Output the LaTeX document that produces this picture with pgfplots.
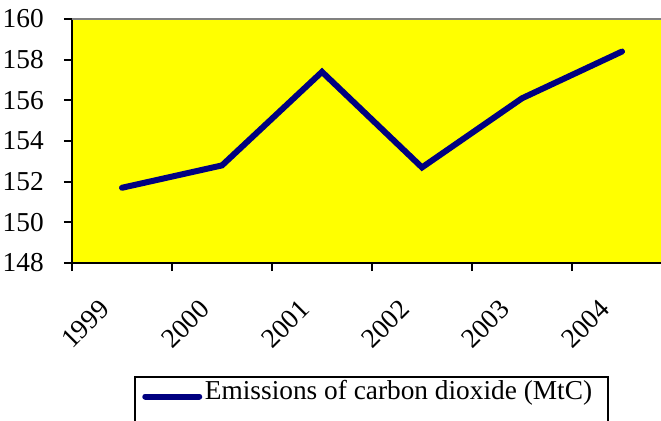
\documentclass[border=0pt]{standalone}
\usepackage{pgfplots}
\pgfplotsset{compat=1.18}
\usepackage{fontspec}
\setmainfont{Liberation Serif}
\definecolor{navyline}{RGB}{0,0,128}
\definecolor{plotyellow}{RGB}{255,255,0}
\definecolor{topgray}{RGB}{128,128,128}
\newcommand{\chartfont}{\fontsize{20.5}{24.6}\selectfont}
\begin{document}
\begin{tikzpicture}
\begin{axis}[
  at={(0,0)}, anchor=south west,
  scale only axis,
  width=450pt, height=183pt,
  xmin=-0.5, xmax=5.5,
  ymin=148, ymax=160,
  clip=false,
  axis x line*=bottom, axis y line*=left,
  axis line style={line width=1.3pt, -},
  axis background/.style={fill=plotyellow},
  xtick={-0.5,0.5,...,4.5},
  xticklabels={1999,2000,2001,2002,2003,2004},
  ytick={148,150,...,160},
  tick align=outside,
  major tick length=6pt,
  tick style={line width=1.3pt, black},
  ticklabel style={font=\chartfont},
  /pgf/number format/assume math mode=true,
  yticklabel style={anchor=east, inner sep=0pt, xshift=-15pt},
  xticklabel style={xshift=27pt, yshift=-23pt, rotate=45, anchor=east},
  legend style={at={(axis description cs:0.105,-0.467)}, anchor=north west,
    draw=none, fill=none, inner sep=0pt, font=\chartfont,
    /tikz/every even column/.append style={column sep=0pt}},
  legend image code/.code={\path (0pt,0pt);
    \draw[line width=4.5pt, line cap=round, navyline] (5.25pt,-4.5pt) -- (45.75pt,-4.5pt);},
]
\addplot[navyline, line width=4.5pt, line cap=round, line join=miter] coordinates {
  (0,151.7) (1,152.8) (2,157.4) (3,152.7) (4,156.1) (5,158.4)
};
\addlegendentry{Emissions of carbon dioxide (MtC)}
\draw[topgray, line width=1.5pt] (rel axis cs:0,1) -- (rel axis cs:1,1);
% legend frame (its bottom edge lies below the picture)
\draw[black, line width=1.2pt]
  (axis description cs:0.105,-0.8) -- (axis description cs:0.105,-0.467)
  -- (axis description cs:0.893,-0.467) -- (axis description cs:0.893,-0.8);
\end{axis}
\pgfresetboundingbox
\path[use as bounding box] (-54pt,-118.5pt) rectangle (441.75pt,197.25pt);
\end{tikzpicture}
\end{document}
